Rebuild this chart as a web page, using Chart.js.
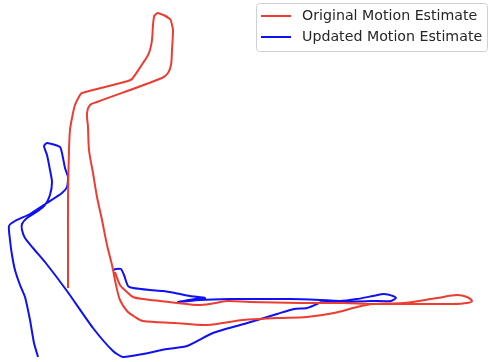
<!DOCTYPE html>
<html>
<head>
<meta charset="utf-8">
<script src="https://cdn.jsdelivr.net/npm/chart.js@4.4.1/dist/chart.umd.min.js"></script>
<style>
  html, body { margin: 0; padding: 0; background: #fff; }
  #wrap { width: 488px; height: 362px; }
</style>
</head>
<body>
<div id="wrap"><canvas id="traj"></canvas></div>
<script>
// trajectory samples (x, y)
const originalX = [6.8, 6.8, 6.8, 6.9, 7.0, 7.2, 7.5, 8.0, 8.2, 12.8, 13.2, 14.3, 14.7, 15.0, 15.2, 15.3, 15.4, 15.5, 15.8, 17.0, 17.2, 17.3, 17.2, 17.1, 16.8, 16.2, 9.7, 9.0, 8.7, 8.8, 8.9, 9.3, 9.7, 10.2, 10.7, 11.2, 11.6, 12.0, 12.7, 13.5, 14.3, 17.5, 20.7, 24.3, 27.7, 30.7, 33.4, 35.7, 37.3, 40.3, 43.7, 45.7, 46.7, 47.2, 46.7, 45.3, 42.0, 39.7, 37.0, 34.4, 30.0, 25.0, 22.7, 21.0, 19.7, 16.0, 14.3, 13.3, 12.7, 12.0, 11.5];
const originalY = [7.4, 11.2, 16.2, 21.2, 23.2, 24.4, 25.7, 26.7, 26.9, 28.1, 28.3, 29.9, 30.5, 31.2, 32.2, 33.7, 34.5, 34.7, 34.9, 34.3, 33.7, 33.2, 31.2, 29.7, 28.9, 28.4, 26.0, 25.7, 24.9, 23.5, 21.2, 18.9, 16.5, 14.2, 11.7, 9.7, 7.7, 6.2, 5.1, 4.5, 4.1, 3.9, 3.7, 4.2, 4.4, 4.5, 4.9, 5.5, 5.8, 5.9, 6.4, 6.7, 6.5, 6.1, 5.9, 5.8, 5.8, 5.8, 5.8, 5.9, 5.9, 6.0, 6.1, 5.8, 5.7, 6.1, 6.3, 6.5, 7.0, 7.7, 9.0];

const updatedX = [11.3, 11.6, 12.1, 12.4, 12.8, 13.3, 15.0, 16.3, 17.5, 19.0, 20.5, 19.5, 17.8, 20.0, 23.0, 25.0, 29.0, 32.0, 34.0, 35.7, 37.3, 38.4, 39.3, 39.6, 39.1, 37.1, 34.4, 32.1, 31.7, 30.7, 29.4, 27.7, 26.4, 24.4, 21.3, 18.7, 16.7, 14.3, 12.3, 11.3, 9.3, 6.7, 4.5, 3.3, 2.5, 2.2, 2.2, 2.7, 3.8, 4.5, 5.0, 5.2, 5.0, 4.7, 4.4, 4.7, 6.0, 6.3, 6.5, 6.8, 6.7, 6.2, 4.7, 3.0, 1.5, 0.9, 1.0, 1.2, 1.5, 2.0, 2.5, 3.0, 3.4, 3.8];
const updatedY = [9.2, 9.3, 9.3, 8.7, 7.6, 7.4, 7.2, 7.1, 6.9, 6.6, 6.4, 6.3, 6.0, 6.2, 6.3, 6.3, 6.3, 6.2, 6.1, 6.3, 6.6, 6.8, 6.6, 6.4, 6.1, 6.1, 6.0, 6.0, 5.8, 5.4, 5.3, 4.8, 4.4, 3.8, 2.9, 1.6, 1.3, 0.8, 0.5, 1.1, 3.4, 7.1, 10.0, 11.4, 12.4, 13.2, 13.8, 14.4, 15.1, 15.7, 16.7, 18.0, 19.2, 20.7, 21.6, 21.9, 21.5, 20.4, 19.4, 18.5, 17.5, 16.9, 15.9, 14.8, 14.1, 13.6, 12.2, 10.7, 9.2, 7.7, 6.5, 4.2, 1.9, 0.5];

const seriesNames = ['Original Motion Estimate', 'Updated Motion Estimate'];
const seriesColors = ['#ec3d32', '#1010f5'];

function toPoints(xs, ys) {
    return xs.map((x, i) => ({ x: x, y: ys[i] }));
}

// legend drawn like a matplotlib box in the upper right corner
const boxLegend = {
    id: 'boxLegend',
    afterDraw(chart) {
        const ctx = chart.ctx;
        const left = 256, top = 3, w = 231, h = 48;
        ctx.save();
        ctx.fillStyle = 'rgba(255,255,255,0.85)';
        ctx.strokeStyle = '#d0d0d0';
        ctx.lineWidth = 1;
        ctx.beginPath();
        ctx.roundRect(left + 0.5, top + 0.5, w, h, 3);
        ctx.fill();
        ctx.stroke();
        ctx.font = '14.2px "DejaVu Sans"';
        ctx.textBaseline = 'middle';
        chart.data.datasets.forEach((ds, i) => {
            const y = top + 13 + i * 21;
            ctx.strokeStyle = ds.borderColor;
            ctx.lineWidth = 2;
            ctx.beginPath();
            ctx.moveTo(261, y);
            ctx.lineTo(291, y);
            ctx.stroke();
            ctx.fillStyle = '#262626';
            ctx.fillText(ds.label, 302, y);
        });
        ctx.restore();
    }
};

new Chart(document.getElementById('traj'), {
    type: 'scatter',
    data: {
        datasets: [
            {
                label: seriesNames[0],
                data: toPoints(originalX, originalY),
                showLine: true,
                borderColor: seriesColors[0],
                borderWidth: 2,
                pointRadius: 0,
                tension: 0.3
            },
            {
                label: seriesNames[1],
                data: toPoints(updatedX, updatedY),
                showLine: true,
                borderColor: seriesColors[1],
                borderWidth: 2,
                pointRadius: 0,
                tension: 0.2
            }
        ]
    },
    options: {
        responsive: true,
        maintainAspectRatio: false,
        animation: false,
        layout: { padding: 0 },
        scales: {
            x: { type: 'linear', min: 0, max: 48.8, display: false },
            y: { type: 'linear', min: 0, max: 36.2, display: false }
        },
        plugins: {
            legend: { display: false },
            tooltip: { enabled: false }
        }
    },
    plugins: [boxLegend]
});
</script>
</body>
</html>
